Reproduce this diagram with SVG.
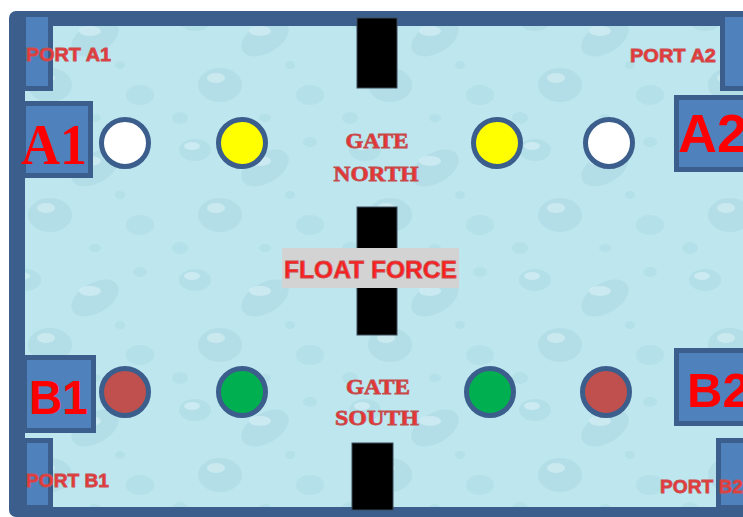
<svg xmlns="http://www.w3.org/2000/svg" width="743" height="517" viewBox="0 0 743 517">
<style>
.port{fill:#4f81bd;stroke:#3b5e8c;stroke-width:5}
.gate{fill:#000;stroke:#3a4a5a;stroke-width:1}
.ball{stroke:#3b5e8c;stroke-width:5}
.lbl{font-family:"Liberation Sans",Arial,sans-serif;font-weight:bold;fill:#e8383a;stroke:#c85050;stroke-width:0.8}
.big{font-family:"Liberation Sans",Arial,sans-serif;font-weight:bold;fill:#ff0000}
.serif{font-family:"Liberation Serif","Times New Roman",serif;font-weight:bold;fill:#e83535;stroke:#c05050;stroke-width:0.8}
</style>
<defs>
<pattern id="drops" width="170" height="130" patternUnits="userSpaceOnUse">
<rect width="170" height="130" fill="#bde6ee"/>
<ellipse cx="25" cy="20" rx="16" ry="11" fill="#a9d8e2" opacity="0.5"/>
<ellipse cx="22" cy="16" rx="8" ry="4" fill="#e3f6f9" opacity="0.5"/>
<ellipse cx="95" cy="38" rx="26" ry="15" fill="#a6d5e0" opacity="0.45" transform="rotate(-30 95 38)"/>
<ellipse cx="90" cy="31" rx="11" ry="5" fill="#e6f7fa" opacity="0.45"/>
<ellipse cx="140" cy="95" rx="14" ry="10" fill="#abd9e3" opacity="0.5"/>
<ellipse cx="50" cy="85" rx="22" ry="17" fill="#a7d6e1" opacity="0.45"/>
<ellipse cx="46" cy="78" rx="9" ry="5" fill="#e4f6f9" opacity="0.45"/>
<ellipse cx="140" cy="12" rx="7" ry="5" fill="#acdae4" opacity="0.5"/>
<ellipse cx="10" cy="118" rx="8" ry="6" fill="#acdae4" opacity="0.5"/>
<ellipse cx="95" cy="118" rx="6" ry="4" fill="#acdae4" opacity="0.5"/>
<ellipse cx="120" cy="65" rx="5" ry="4" fill="#acdae4" opacity="0.5"/>
</pattern>
</defs>
<rect width="743" height="517" fill="#ffffff"/>
<g id="frame">
<rect x="9" y="11" width="760" height="506" rx="7" fill="#3b5e8c"/>
<rect x="25" y="26" width="740" height="481" fill="url(#drops)"/>
</g>
<g id="port-a1"><rect class="port" x="23.5" y="14.5" width="27" height="74"/><text class="lbl" x="26" y="61" font-size="19" textLength="85" lengthAdjust="spacingAndGlyphs">PORT A1</text></g>
<g id="port-a2"><rect class="port" x="722.5" y="14.5" width="40" height="74"/><text class="lbl" x="630" y="62" font-size="19" textLength="86" lengthAdjust="spacingAndGlyphs">PORT A2</text></g>
<g id="port-b1"><rect class="port" x="24.5" y="440.5" width="26" height="67"/><text class="lbl" x="26" y="487" font-size="19" textLength="83" lengthAdjust="spacingAndGlyphs">PORT B1</text></g>
<g id="port-b2"><rect class="port" x="718.5" y="440.5" width="40" height="67"/><text class="lbl" x="660" y="493" font-size="19" textLength="83" lengthAdjust="spacingAndGlyphs">PORT B2</text></g>
<g id="box-a1"><rect class="port" x="23.5" y="103.5" width="67" height="72"/><text class="big" x="21" y="164" font-size="58" textLength="66" lengthAdjust="spacingAndGlyphs" style="font-family:'Liberation Serif','Times New Roman',serif">A1</text></g>
<g id="box-a2"><rect class="port" x="676.5" y="97.5" width="80" height="72"/><text class="big" x="678" y="152" font-size="54">A2</text></g>
<g id="box-b1"><rect class="port" x="24.5" y="357.5" width="69" height="73"/><text class="big" x="29" y="414" font-size="49" textLength="59" lengthAdjust="spacingAndGlyphs">B1</text></g>
<g id="box-b2"><rect class="port" x="676.5" y="350.5" width="80" height="73"/><text class="big" x="687" y="407" font-size="49">B2</text></g>
<g id="gate-north"><rect class="gate" x="357" y="18" width="40" height="70"/><text class="serif" x="377" y="148" font-size="22" text-anchor="middle" textLength="63" lengthAdjust="spacingAndGlyphs">GATE</text><text class="serif" x="376" y="181" font-size="22" text-anchor="middle" textLength="85" lengthAdjust="spacingAndGlyphs">NORTH</text></g>
<g id="float-force"><rect class="gate" x="357" y="207" width="40" height="128"/><rect x="282" y="248" width="177" height="40" fill="#d3d3d3"/><text class="lbl" x="284" y="278" font-size="24" textLength="173" lengthAdjust="spacingAndGlyphs" style="fill:#ff1f1f">FLOAT FORCE</text></g>
<g id="gate-south"><rect class="gate" x="352" y="443" width="41" height="67"/><text class="serif" x="378" y="394" font-size="22" text-anchor="middle" textLength="64" lengthAdjust="spacingAndGlyphs">GATE</text><text class="serif" x="377" y="425" font-size="22" text-anchor="middle" textLength="84" lengthAdjust="spacingAndGlyphs">SOUTH</text></g>
<g id="ball-a1-white"><circle class="ball" cx="125" cy="143" r="23.5" fill="#ffffff"/></g>
<g id="ball-a1-yellow"><circle class="ball" cx="242" cy="143" r="23.5" fill="#ffff00"/></g>
<g id="ball-a2-yellow"><circle class="ball" cx="497" cy="143" r="23.5" fill="#ffff00"/></g>
<g id="ball-a2-white"><circle class="ball" cx="609" cy="143" r="23.5" fill="#ffffff"/></g>
<g id="ball-b1-red"><circle class="ball" cx="125" cy="392" r="23.5" fill="#c0504d"/></g>
<g id="ball-b1-green"><circle class="ball" cx="242" cy="392" r="23.5" fill="#00b050"/></g>
<g id="ball-b2-green"><circle class="ball" cx="490" cy="392" r="23.5" fill="#00b050"/></g>
<g id="ball-b2-red"><circle class="ball" cx="606" cy="392" r="23.5" fill="#c0504d"/></g>
</svg>
